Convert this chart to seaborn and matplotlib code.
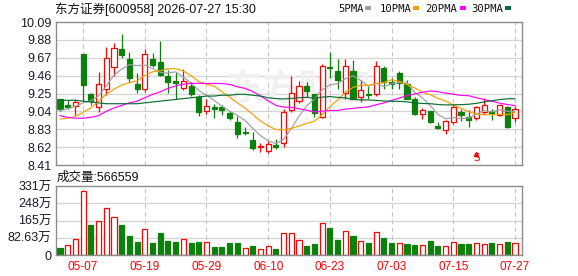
import numpy as np
import matplotlib
matplotlib.use("Agg")
import matplotlib.pyplot as plt
from matplotlib.patches import Rectangle
import seaborn as sns

# ---------------- data ----------------
dates = ["04-29", "04-30", "05-06", "05-07", "05-08", "05-11", "05-12", "05-13", "05-14", "05-15",
         "05-18", "05-19", "05-20", "05-21", "05-22", "05-25", "05-26", "05-27", "05-28", "05-29",
         "06-01", "06-02", "06-03", "06-04", "06-05", "06-08", "06-09", "06-10", "06-11", "06-12",
         "06-15", "06-16", "06-17", "06-18", "06-22", "06-23", "06-24", "06-25", "06-26", "06-29",
         "06-30", "07-01", "07-02", "07-03", "07-06", "07-07", "07-08", "07-09", "07-10", "07-13",
         "07-14", "07-15", "07-16", "07-17", "07-20", "07-21", "07-22", "07-23", "07-24", "07-27"]

opens = [9.18, 9.12, 9.10, 9.71, 9.24, 9.09, 9.30, 9.56, 9.77, 9.66,
         9.36, 9.30, 9.66, 9.62, 9.46, 9.40, 9.31, 9.34, 9.21, 9.04,
         9.09, 9.09, 9.02, 8.92, 8.80, 8.70, 8.62, 8.58, 8.65, 8.67,
         9.06, 9.16, 9.34, 9.24, 8.97, 9.56, 9.51, 9.26, 9.51, 9.21,
         9.24, 9.25, 9.55, 9.38, 9.49, 9.36, 9.18, 9.01, 9.04, 8.87,
         8.82, 8.91, 9.03, 8.97, 8.96, 9.03, 9.04, 9.00, 9.09, 8.96]
closes = [9.07, 9.09, 9.15, 9.35, 9.16, 9.36, 9.67, 9.79, 9.70, 9.43,
          9.30, 9.71, 9.58, 9.47, 9.39, 9.37, 9.40, 9.24, 9.03, 9.10,
          9.07, 9.06, 8.96, 8.78, 8.79, 8.61, 8.63, 8.66, 8.62, 9.03,
          9.26, 9.34, 9.28, 9.02, 9.57, 9.55, 9.41, 9.57, 9.19, 9.29,
          9.23, 9.57, 9.38, 9.36, 9.37, 9.19, 9.01, 9.06, 8.92, 8.84,
          8.93, 9.09, 9.00, 8.94, 9.09, 9.12, 9.02, 9.12, 8.86, 9.07]
highs = [9.19, 9.17, 9.19, 9.71, 9.26, 9.50, 9.80, 9.84, 9.95, 9.74,
         9.49, 9.77, 9.72, 9.87, 9.53, 9.50, 9.54, 9.39, 9.23, 9.18,
         9.13, 9.12, 9.05, 8.98, 8.86, 8.80, 8.67, 8.69, 8.71, 9.07,
         9.45, 9.40, 9.39, 9.25, 9.60, 9.74, 9.65, 9.65, 9.64, 9.41,
         9.34, 9.63, 9.57, 9.43, 9.51, 9.41, 9.21, 9.08, 9.05, 8.92,
         8.94, 9.11, 9.07, 9.06, 9.10, 9.20, 9.07, 9.13, 9.10, 9.10]
lows = [9.05, 9.07, 9.00, 9.16, 9.11, 9.03, 9.23, 9.45, 9.67, 9.39,
        9.26, 9.27, 9.56, 9.46, 9.26, 9.19, 9.29, 9.22, 8.99, 9.01,
        8.96, 9.00, 8.94, 8.73, 8.76, 8.59, 8.56, 8.55, 8.60, 8.62,
        9.03, 9.14, 9.21, 8.97, 8.96, 9.43, 9.30, 9.18, 9.18, 9.15,
        9.18, 9.22, 9.30, 9.30, 9.30, 9.18, 9.00, 8.95, 8.90, 8.83,
        8.77, 8.89, 8.93, 8.86, 8.94, 9.01, 8.94, 8.98, 8.85, 8.92]

ma5 = [9.05, 9.07, 9.10, 9.14, 9.164, 9.222, 9.338, 9.466, 9.536, 9.59,
       9.578, 9.586, 9.544, 9.498, 9.49, 9.504, 9.442, 9.374, 9.286, 9.228,
       9.168, 9.10, 9.044, 8.994, 8.932, 8.84, 8.754, 8.694, 8.662, 8.71,
       8.84, 8.982, 9.106, 9.186, 9.294, 9.352, 9.366, 9.424, 9.458, 9.402,
       9.338, 9.37, 9.332, 9.364, 9.38, 9.372, 9.262, 9.198, 9.11, 9.004,
       8.952, 8.968, 8.956, 8.96, 9.01, 9.048, 9.034, 9.058, 9.042, 9.038]
ma10 = [8.95, 8.96, 8.98, 9.03, 9.08, 9.16, 9.24, 9.30, 9.35, 9.377,
        9.40, 9.462, 9.505, 9.517, 9.54, 9.541, 9.514, 9.459, 9.392, 9.359,
        9.336, 9.271, 9.209, 9.14, 9.08, 9.004, 8.927, 8.869, 8.828, 8.821,
        8.84, 8.868, 8.90, 8.924, 9.002, 9.096, 9.174, 9.265, 9.322, 9.348,
        9.345, 9.368, 9.378, 9.412, 9.392, 9.356, 9.316, 9.265, 9.238, 9.193,
        9.163, 9.115, 9.077, 9.035, 9.007, 9.00, 9.001, 9.007, 9.001, 9.024]
ma20 = [8.99, 8.97, 8.96, 8.96, 8.97, 8.99, 9.04, 9.08, 9.11, 9.14,
        9.16, 9.20, 9.24, 9.27, 9.31, 9.34, 9.36, 9.37, 9.37, 9.368,
        9.368, 9.367, 9.357, 9.329, 9.31, 9.273, 9.221, 9.164, 9.11, 9.09,
        9.088, 9.07, 9.055, 9.032, 9.041, 9.05, 9.051, 9.067, 9.075, 9.085,
        9.093, 9.118, 9.139, 9.168, 9.197, 9.226, 9.245, 9.265, 9.28, 9.271,
        9.255, 9.242, 9.228, 9.224, 9.20, 9.179, 9.159, 9.137, 9.12, 9.109]
ma30 = [9.17, 9.17, 9.17, 9.16, 9.15, 9.14, 9.13, 9.13, 9.13, 9.13,
        9.13, 9.14, 9.15, 9.16, 9.17, 9.18, 9.19, 9.20, 9.21, 9.22,
        9.22, 9.23, 9.23, 9.24, 9.24, 9.23, 9.22, 9.20, 9.19, 9.186,
        9.192, 9.20, 9.205, 9.194, 9.207, 9.214, 9.205, 9.198, 9.181, 9.176,
        9.174, 9.169, 9.162, 9.159, 9.158, 9.152, 9.139, 9.133, 9.13, 9.121,
        9.116, 9.117, 9.119, 9.124, 9.134, 9.151, 9.164, 9.179, 9.187, 9.189]

# volume in 万 (10k shares)
volumes = [35, 49, 76, 305, 145, 162, 224, 181, 145, 92,
           64, 124, 59, 107, 68, 64, 76, 59, 64, 64,
           38, 37, 56, 56, 32, 42, 27, 42, 27, 104,
           104, 70, 42, 51, 152, 128, 70, 114, 90, 66,
           57, 109, 80, 56, 56, 51, 46, 46, 66, 42,
           42, 61, 51, 51, 56, 51, 56, 51, 61, 56.66]

tick_labels = ["05-07", "05-19", "05-29", "06-10", "06-23", "07-03", "07-15", "07-27"]
price_ticks = [8.41, 8.62, 8.83, 9.04, 9.25, 9.46, 9.67, 9.88, 10.09]
vol_ticks = [0, 82.63, 165.26, 247.89, 330.52]
vol_tick_labels = ["0", "82.63万", "165万", "248万", "331万"]
ma_names = ["5PMA", "10PMA", "20PMA", "30PMA"]
title_text = "东方证券[600958] 2026-07-27 15:30"
volume_text = "成交量:566559"
signal_label = "S"
signal_date = "07-20"
signal_price = 8.49

# ---------------- style ----------------
sns.set_theme(style="white")
plt.rcParams["font.family"] = ["Liberation Sans", "Noto Sans CJK SC", "DejaVu Sans"]

RED = "#ff0000"
GREEN = "#0b800b"
MA_COLORS = ["#a0a0a0", "#f5a000", "#ff00ff", "#0a6e32"]
GRID = "#d4d4d4"
VGRID = "#c4c4c4"
SPINE = "#8c8c8c"
LABEL = "#1a1a2a"

W, H = 578, 276
fig = plt.figure(figsize=(W / 100, H / 100), dpi=100)
fig.patch.set_facecolor("white")

left_px, right_px = 55.5, 522.3
ax = fig.add_axes([left_px / W, 1 - 165 / H, (right_px - left_px) / W, (165 - 22) / H])
axv = fig.add_axes([left_px / W, 1 - 255 / H, (right_px - left_px) / W, (255 - 186) / H])

idx = np.arange(len(dates))
tick_pos = [dates.index(t) for t in tick_labels]
xlim = (-0.58, 59.95)

for a in (ax, axv):
    a.set_facecolor("white")
    a.set_xlim(*xlim)
    for s in a.spines.values():
        s.set_color(SPINE)
        s.set_linewidth(1.0)
        s.set_visible(True)
    for p in tick_pos:
        a.axvline(p, color=VGRID, lw=0.8, ls=(0, (4, 3)), zorder=0.6)
    a.tick_params(length=0)

# ---- main price panel ----
ax.set_ylim(price_ticks[0], price_ticks[-1])
for t in price_ticks[1:-1]:
    ax.axhline(t, color=GRID, lw=0.9, zorder=0.5)
ax.set_yticks(price_ticks)
ax.set_yticklabels([f"{t:.2f}" for t in price_ticks], fontsize=9, color=LABEL)
ax.tick_params(axis="y", pad=3)
ax.set_xticks([])

# faint watermark
ax.text(31, 9.30, "东方财富", fontsize=26, color="#f0f0f0", ha="center", va="center",
        family=["Noto Sans CJK SC"], fontweight="bold", zorder=0.7)

bw = 0.66
for i in idx:
    o, c, h, l = opens[i], closes[i], highs[i], lows[i]
    up = c > o
    col = RED if up else GREEN
    ax.vlines(i, l, h, color=col, lw=0.9, zorder=2)
    bottom = min(o, c)
    height = max(abs(c - o), 0.008)
    ax.add_patch(Rectangle((i - bw / 2, bottom), bw, height,
                           facecolor="white" if up else col, edgecolor=col,
                           lw=0.9, zorder=2.5))

for vals, colr in zip([ma5, ma10, ma20, ma30], MA_COLORS):
    sns.lineplot(x=idx, y=vals, ax=ax, color=colr, linewidth=0.85, legend=False, zorder=3)
ax.set_xlim(*xlim)
ax.set_ylim(price_ticks[0], price_ticks[-1])
ax.set_xlabel("")
ax.set_ylabel("")

# signal marker
si = dates.index(signal_date)
ax.plot(si, signal_price + 0.055, marker="^", ms=3, color=RED, zorder=4)
ax.text(si, signal_price, signal_label, color=RED, fontsize=8, ha="center", va="center",
        family=["DejaVu Sans Mono"], zorder=4)

# ---- volume panel ----
axv.set_ylim(0, vol_ticks[-1])
for t in vol_ticks[1:-1]:
    axv.axhline(t, color=GRID, lw=0.9, zorder=0.5)
vol_colors = []
for i in idx:
    if i == 0:
        vol_colors.append(RED if closes[i] > opens[i] else GREEN)
    else:
        vol_colors.append(RED if closes[i] > closes[i - 1] else GREEN)
for i in idx:
    colr = vol_colors[i]
    axv.bar(i, volumes[i], width=bw, facecolor="white" if colr == RED else colr,
            edgecolor=colr, lw=0.9, zorder=2)
axv.set_yticks(vol_ticks)
axv.set_yticklabels(vol_tick_labels, fontsize=9, color=LABEL)
axv.tick_params(axis="y", pad=3)
axv.set_xticks(tick_pos)
axv.set_xticklabels(tick_labels, fontsize=8.5, color=RED)
axv.tick_params(axis="x", pad=4)

# ---- header texts ----
fig.text(55 / W, 1 - 9.5 / H, title_text, fontsize=9, color="#111111", ha="left", va="center")
fig.text(57 / W, 1 - 177.5 / H, volume_text, fontsize=9, color="#111111", ha="left", va="center")

legend_x = [338, 380, 425, 471]
dash_x = [365, 413, 459.5, 505]
for name, lx, dx, colr in zip(ma_names, legend_x, dash_x, MA_COLORS):
    fig.text(lx / W, 1 - 9.5 / H, name, fontsize=7.6, color="#111111", ha="left", va="center",
             family=["DejaVu Sans Mono"])
    fig.patches.append(Rectangle((dx / W, 1 - 9.5 / H), 6 / W, 3 / H, transform=fig.transFigure,
                                 facecolor=colr, edgecolor="none"))

fig.savefig("out.png", dpi=100, facecolor="white")
